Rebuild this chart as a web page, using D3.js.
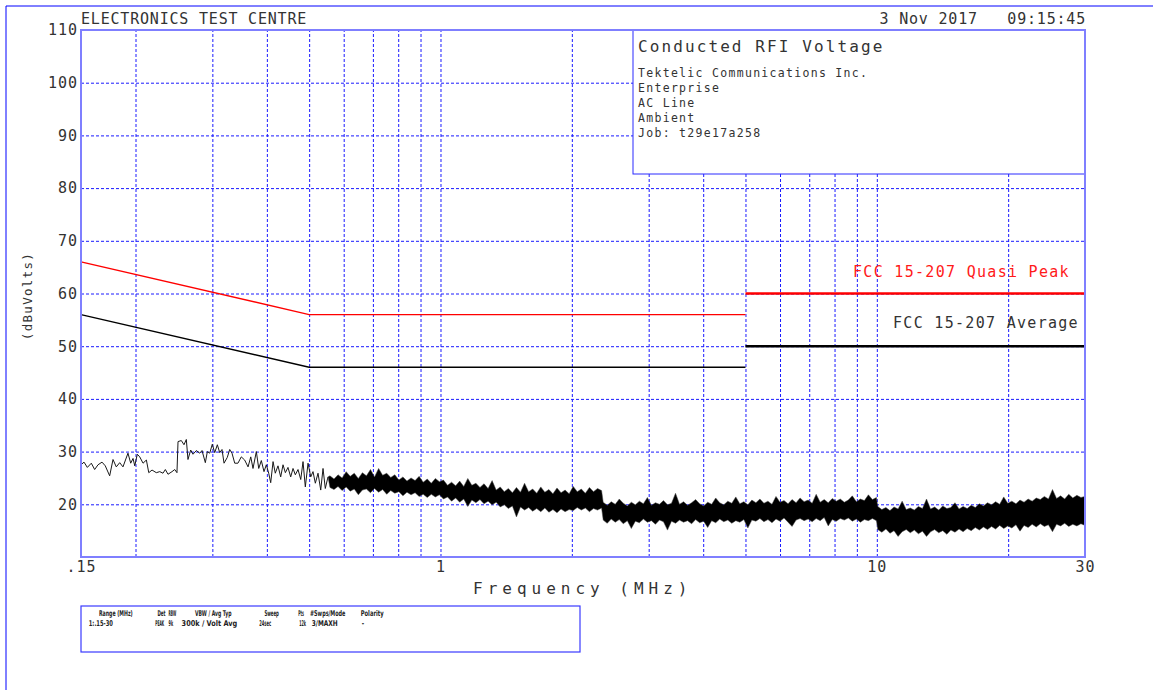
<!DOCTYPE html>
<html lang="en">
<head>
<meta charset="UTF-8">
<title>Conducted RFI Voltage</title>
<script src="https://d3js.org/d3.v7.min.js"></script>
<style>
  body { margin: 0; background: #fff; overflow: hidden; }
  svg { display: block; }
  .plotter { font-family: "DejaVu Sans Mono", "Liberation Mono", monospace; fill: #333; white-space: pre; }
  .grid line { stroke: #1a1aff; stroke-width: 1; stroke-dasharray: 3,2; }
  .grid path { display: none; }
  .axis path { display: none; }
  .axis text { font-family: "DejaVu Sans Mono", "Liberation Mono", monospace; font-size: 15px; letter-spacing: 1px; fill: #333; }
  .table-text { font-family: "DejaVu Sans Condensed", "Liberation Sans", sans-serif; font-size: 8px; font-weight: bold; fill: #222; }
</style>
</head>
<body>
<svg id="chart" width="1153" height="690"></svg>
<script>
// ---- chart values ----
const yTicks = [20, 30, 40, 50, 60, 70, 80, 90, 100, 110];
const yGrid = [20, 30, 40, 50, 60, 70, 80, 90, 100];
const xTicks = [0.15, 1, 10, 30];
const xTickLabels = [".15", "1", "10", "30"];
const xGrid = [0.2, 0.3, 0.4, 0.5, 0.6, 0.7, 0.8, 0.9, 1, 2, 3, 4, 5, 6, 7, 8, 9, 10, 20];

// FCC 15-207 limits (MHz, dBuV)
const qpFreqA = [0.15, 0.5, 5];
const qpLevelA = [66, 56, 56];
const qpFreqB = [5, 30];
const qpLevelB = [60, 60];
const avgFreqA = [0.15, 0.5, 5];
const avgLevelA = [56, 46, 46];
const avgFreqB = [5, 30];
const avgLevelB = [50, 50];

// measured trace, low-frequency part (read point by point)
const sparseFreq = [0.150,0.1524,0.1551,0.1584,0.1612,0.1641,0.1676,0.1705,0.1745,0.1776,
  0.1807,0.1840,0.1872,0.1922,0.1950,0.1974,0.1992,0.2019,0.2045,0.2081,
  0.2118,0.2145,0.2182,0.2232,0.2273,0.2312,0.2341,0.2374,0.2425,0.2460,
  0.2489,0.2503,0.2547,0.2583,0.2615,0.2638,0.2676,0.2709,0.2757,0.2807,
  0.2841,0.2891,0.2922,0.2959,0.2999,0.3038,0.3080,0.3119,0.3157,0.3191,
  0.3246,0.3288,0.3328,0.3376,0.3434,0.3495,0.3558,0.3622,0.3674,0.3718,
  0.3784,0.3832,0.3885,0.3940,0.3989,0.4039,0.4082,0.4133,0.4182,0.4242,
  0.4303,0.4356,0.4410,0.4472,0.4536,0.4592,0.4648,0.4715,0.4783,0.4841,
  0.4900,0.4971,0.5042,0.5103,0.5166,0.5240,0.5315,0.5380,0.5445,0.5523];
const sparseLevel = [27.5,28.0,27.0,27.8,26.6,27.5,28.0,27.3,25.4,28.5,
  27.1,27.9,27.1,29.7,27.8,28.7,27.3,29.5,29.0,27.8,
  28.4,26.0,26.5,26.0,26.2,25.9,26.6,25.7,26.2,26.6,
  26.0,31.9,32.1,31.3,32.3,28.5,30.3,29.5,30.2,29.7,
  30.2,27.9,30.0,29.7,31.4,29.8,31.3,29.8,30.4,27.8,
  28.9,30.4,29.7,27.8,27.8,29.0,28.4,27.1,29.0,26.8,
  30.0,26.8,28.3,26.2,27.5,25.9,24.1,28.1,25.9,27.3,
  25.2,27.5,26.0,27.0,25.2,26.8,25.6,26.6,24.7,28.1,
  23.3,27.8,25.2,26.2,24.0,25.9,22.7,26.8,23.0,25.2];

// dense part of the sweep: max / min envelope per sweep point, three bands
const bandAStart = 0.558, bandAEnd = 2.34;
const bandAHigh = [25.4,24.8,25.6,25.0,26.2,25.3,25.9,24.9,26.0,25.4,
  26.6,25.2,26.8,25.5,25.9,25.1,25.6,24.6,25.2,24.4,
  25.0,24.5,25.3,24.2,24.8,24.0,24.9,24.3,24.6,23.6,
  24.2,23.5,24.4,23.4,24.9,23.6,24.0,23.2,23.9,23.0,
  24.5,22.7,23.3,22.4,23.0,22.2,23.2,22.3,24.0,22.4,
  22.9,22.1,23.3,22.3,22.8,22.0,23.1,22.2,22.7,22.0,
  23.4,22.4,22.9,22.1,23.2,22.4,23.0,22.6];
const bandALow = [23.2,22.8,23.4,22.6,23.3,22.5,22.9,21.8,22.7,22.9,
  22.2,23.0,22.3,22.8,21.9,22.6,22.1,22.4,21.6,22.3,
  21.8,22.2,21.5,21.9,21.3,21.9,21.4,21.8,21.0,21.4,
  20.6,21.2,20.4,21.0,19.6,20.8,20.3,20.9,20.1,20.6,
  19.9,20.4,19.5,19.9,19.2,19.7,17.6,19.5,18.9,19.4,
  18.7,19.2,18.6,19.3,18.5,19.0,18.4,19.1,18.6,19.0,
  18.8,19.4,18.9,19.3,18.6,19.2,18.9,19.3];

const bandBStart = 2.36, bandBEnd = 9.98;
const bandBHigh = [20.4,19.8,20.5,20.0,21.0,20.2,19.7,20.4,19.9,20.6,
  20.1,21.3,19.8,20.3,20.0,20.7,19.9,20.2,22.1,20.0,
  20.5,19.8,20.3,20.9,20.1,19.7,20.4,20.0,21.2,20.3,
  19.9,20.6,20.2,21.4,20.1,20.5,19.9,20.8,20.3,21.0,
  20.2,20.6,20.0,21.5,20.4,20.7,20.1,20.9,20.3,21.2,
  20.5,20.8,20.2,21.9,20.4,20.9,20.3,21.1,20.6,21.0,
  20.4,20.8,21.6,20.5,21.0,20.7,21.8,20.9,21.3];
const bandBLow = [17.0,16.4,17.2,16.6,17.1,16.3,16.9,15.4,16.8,16.5,
  17.2,16.6,16.9,16.2,17.0,16.7,15.1,16.8,16.4,17.0,
  16.6,16.9,16.3,17.1,16.5,16.8,15.6,16.9,16.5,17.2,
  16.7,17.0,16.4,16.9,16.6,17.1,15.5,17.0,16.8,17.3,
  16.7,17.1,16.5,17.2,16.8,17.4,16.6,15.8,17.0,17.3,
  16.9,17.2,16.7,17.3,16.9,17.5,15.9,17.1,16.8,17.3,
  17.0,17.4,16.8,17.2,16.6,17.1,16.9,17.3,16.9];

const bandCStart = 10.05, bandCEnd = 30;
const bandCHigh = [19.6,19.0,19.4,18.8,19.5,19.1,20.6,19.0,19.3,18.9,
  19.6,19.2,21.0,19.1,19.5,18.9,19.7,19.2,19.4,20.3,
  19.1,19.6,19.2,19.8,19.4,20.1,19.7,20.3,19.9,20.5,
  20.0,21.4,20.2,20.6,20.1,20.8,20.4,21.0,20.6,21.2,
  20.9,21.5,21.0,22.8,21.1,21.6,21.0,21.9,21.2,21.7,
  21.3,21.5];
const bandCLow = [15.2,14.7,15.3,14.5,15.0,13.9,14.8,15.2,14.6,15.1,
  14.4,14.9,13.9,14.8,15.2,14.6,15.0,14.3,15.1,14.7,
  15.3,14.8,15.4,15.0,15.6,15.1,15.7,15.2,15.8,15.3,
  16.0,15.4,15.9,15.5,16.1,14.9,16.0,15.6,16.2,15.7,
  16.3,15.8,16.1,14.8,16.2,15.9,16.4,15.8,16.2,15.9,
  16.3,16.0];

// texts
const headerLeft = "ELECTRONICS TEST CENTRE";
const headerRight = "3 Nov 2017   09:15:45";
const infoTitle = "Conducted RFI Voltage";
const infoLines = ["Tektelic Communications Inc.", "Enterprise", "AC Line", "Ambient", "Job: t29e17a258"];
const qpLabel = "FCC 15-207 Quasi Peak";
const avgLabel = "FCC 15-207 Average";
const tableHead = ["Range (MHz)", "Det", "RBW", "VBW / Avg Typ", "Sweep", "Pts", "#Swps/Mode", "Polarity"];
const tableRow = ["1:.15-30", "PEAK", "9k", "300k / Volt Avg", "24sec", "12k", "3/MAXH", "-"];

// ---- layout ----
const svg = d3.select("#chart");
const plotLeft = 81, plotRight = 1085, plotTop = 30, plotBottom = 557;
const plotW = plotRight - plotLeft, plotH = plotBottom - plotTop;
const tableHeadX = [99, 157.5, 168.6, 195.1, 264.4, 298.2, 310, 360.7];
const tableHeadW = [33.8, 8, 7.6, 36.5, 14.5, 5.7, 35.5, 23];
const tableRowX = [88.7, 155.2, 168.6, 181.6, 259.3, 299.2, 311.7, 361.7];
const tableRowW = [24.3, 9, 4.5, 55.7, 11.8, 6.8, 26, 2.4];

const x = d3.scaleLog().domain([0.15, 30]).range([plotLeft, plotRight]);
const y = d3.scaleLinear().domain([10, 110]).range([plotBottom, plotTop]);

// outer page frame
svg.append("path")
  .attr("d", "M6,700V6H1170")
  .attr("fill", "none")
  .attr("stroke", "#0000ff")
  .attr("stroke-width", 1);

// grid
svg.append("g")
  .attr("class", "grid")
  .attr("transform", "translate(0," + plotBottom + ")")
  .call(d3.axisBottom(x).tickValues(xGrid).tickSize(-plotH).tickFormat(""));
svg.append("g")
  .attr("class", "grid")
  .attr("transform", "translate(" + plotLeft + ",0)")
  .call(d3.axisLeft(y).tickValues(yGrid).tickSize(-plotW).tickFormat(""));

// axis labels
svg.append("g")
  .attr("class", "axis")
  .attr("transform", "translate(" + plotLeft + ",0)")
  .call(d3.axisLeft(y).tickValues(yTicks).tickSize(0).tickPadding(3).tickFormat(d3.format("d")));
svg.append("g")
  .attr("class", "axis")
  .attr("transform", "translate(0," + plotBottom + ")")
  .call(d3.axisBottom(x).tickValues(xTicks).tickSize(0).tickPadding(4)
    .tickFormat((d, i) => xTickLabels[i]));

// limit lines
const line = d3.line().x(d => x(d[0])).y(d => y(d[1]));
function limit(freqs, levels, color, width) {
  svg.append("path")
    .datum(freqs.map((f, i) => [f, levels[i]]))
    .attr("d", line)
    .attr("fill", "none")
    .attr("stroke", color)
    .attr("stroke-width", width);
}
limit(qpFreqA, qpLevelA, "#ff0000", 1.4);
limit(qpFreqB, qpLevelB, "#ff0000", 2.6);
limit(avgFreqA, avgLevelA, "#000", 1.4);
limit(avgFreqB, avgLevelB, "#000", 2.6);

// trace
svg.append("clipPath").attr("id", "clip")
  .append("rect").attr("x", plotLeft).attr("y", plotTop).attr("width", plotW).attr("height", plotH);
const trace = svg.append("g").attr("clip-path", "url(#clip)");

trace.append("path")
  .datum(sparseFreq.map((f, i) => [f, sparseLevel[i]]))
  .attr("d", line)
  .attr("fill", "none")
  .attr("stroke", "#1a1a1a")
  .attr("stroke-width", 1);

function sweep(f0, f1, hi, lo) {
  const n = hi.length;
  return hi.map((h, i) => ({ f: f0 * Math.pow(f1 / f0, i / (n - 1)), hi: h, lo: lo[i] }));
}
const lastF = sparseFreq[sparseFreq.length - 1], lastL = sparseLevel[sparseLevel.length - 1];
const band = [{ f: lastF, hi: lastL, lo: lastL }].concat(
  sweep(bandAStart, bandAEnd, bandAHigh, bandALow),
  sweep(bandBStart, bandBEnd, bandBHigh, bandBLow),
  sweep(bandCStart, bandCEnd, bandCHigh, bandCLow));
trace.append("path")
  .datum(band)
  .attr("d", d3.area().x(d => x(d.f)).y0(d => y(d.lo)).y1(d => y(d.hi)))
  .attr("fill", "#000")
  .attr("stroke", "#444")
  .attr("stroke-width", 0.5);

// info box
svg.append("rect")
  .attr("x", 633).attr("y", plotTop).attr("width", plotRight - 633).attr("height", 144)
  .attr("fill", "#fff").attr("stroke", "#2a2aff").attr("stroke-width", 1);
svg.append("text").attr("class", "plotter")
  .attr("x", 638).attr("y", 52)
  .style("font-size", "16px").style("letter-spacing", "2.1px")
  .text(infoTitle);
svg.selectAll(".info-line").data(infoLines).enter().append("text")
  .attr("class", "plotter info-line")
  .attr("x", 638).attr("y", (d, i) => 77 + i * 15)
  .style("font-size", "11.5px").style("letter-spacing", "1.3px")
  .text(d => d);

// plot frame
svg.append("rect")
  .attr("x", plotLeft).attr("y", plotTop).attr("width", plotW).attr("height", plotH)
  .attr("fill", "none").attr("stroke", "#7f7fff").attr("stroke-width", 2);

// header
svg.append("text").attr("class", "plotter")
  .attr("x", plotLeft).attr("y", 24)
  .style("font-size", "15px").style("letter-spacing", "0.8px")
  .text(headerLeft);
svg.append("text").attr("class", "plotter")
  .attr("x", plotRight + 1).attr("y", 24).attr("text-anchor", "end")
  .style("font-size", "15px").style("letter-spacing", "0.8px")
  .text(headerRight);

// limit labels
svg.append("text").attr("class", "plotter")
  .attr("x", 853).attr("y", 277)
  .style("font-size", "15px").style("letter-spacing", "1.3px").style("fill", "#ff1a1a")
  .text(qpLabel);
svg.append("text").attr("class", "plotter")
  .attr("x", 893).attr("y", 328)
  .style("font-size", "15px").style("letter-spacing", "1.3px")
  .text(avgLabel);

// axis titles
svg.append("text").attr("class", "plotter")
  .attr("x", 473).attr("y", 594)
  .style("font-size", "16px").style("letter-spacing", "5px")
  .text("Frequency (MHz)");
svg.append("text").attr("class", "plotter")
  .attr("transform", "translate(32,296) rotate(-90)")
  .attr("text-anchor", "middle")
  .style("font-size", "12.5px").style("letter-spacing", "1.3px")
  .text("(dBuVolts)");

// setup table: squeeze each entry horizontally to the width it has in the picture
svg.append("rect")
  .attr("x", 81).attr("y", 606).attr("width", 499).attr("height", 46)
  .attr("fill", "none").attr("stroke", "#3a3aff").attr("stroke-width", 1.2);
function tableText(texts, xs, ws, baseline) {
  texts.forEach((t, i) => {
    const el = svg.append("text").attr("class", "table-text").text(t);
    const natural = el.node().getComputedTextLength() || 1;
    el.attr("transform", "translate(" + xs[i] + "," + baseline + ") scale(" + (ws[i] / natural) + ",1)");
  });
}
tableText(tableHead, tableHeadX, tableHeadW, 616);
tableText(tableRow, tableRowX, tableRowW, 626);
</script>
</body>
</html>
